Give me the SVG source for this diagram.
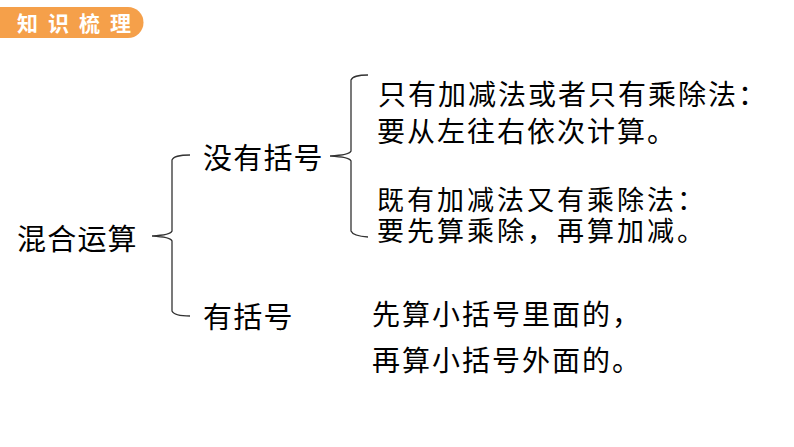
<svg xmlns="http://www.w3.org/2000/svg" width="794" height="447" viewBox="0 0 794 447">
<style>
.t{font-family:"Liberation Sans","Noto Sans CJK SC","Noto Sans CJK JP",sans-serif;fill:#000;}
.l{font-size:29px;letter-spacing:1.2px;}
.r{font-size:28px;letter-spacing:2px;}
.s{font-size:27px;letter-spacing:3px;}
.br{fill:none;stroke:#333;stroke-width:1.3;}
</style>
<rect width="794" height="447" fill="#fff"/>
<g id="banner">
<path d="M0,7 H128 A15.5,15.5 0 0 1 128,38 H0 Z" fill="#F5A04A"/>
<text x="17" y="31" font-family="Noto Sans CJK SC,sans-serif" font-weight="bold" font-size="21" fill="#fff" letter-spacing="10">知识梳理</text>
</g>
<g id="root"><text class="t l" x="17" y="250">混合运算</text></g>
<g id="no-paren"><text class="t l" x="203" y="169">没有括号</text></g>
<g id="paren"><text class="t l" x="203" y="328">有括号</text></g>
<g id="rule1"><text class="t r" x="378" y="105">只有加减法或者只有乘除法：</text><text class="t r" x="377" y="142">要从左往右依次计算。</text></g>
<g id="rule2"><text class="t s" x="377" y="210">既有加减法又有乘除法：</text><text class="t s" x="377" y="241">要先算乘除，再算加减。</text></g>
<g id="rule3"><text class="t r" x="372" y="325">先算小括号里面的，</text><text class="t r" x="372" y="371">再算小括号外面的。</text></g>
<g id="connectors">
<path class="br" d="M190,155 Q174,155 172,160 L172,231 Q171,235 152,236 Q171,237 172,241 L172,311 Q174,316 190,316"/>
<path class="br" d="M368,75 Q353,75 351,80 L351,151 Q350,155 330,156 Q350,157 351,161 L351,231 Q353,236 368,237"/>
</g>
</svg>
